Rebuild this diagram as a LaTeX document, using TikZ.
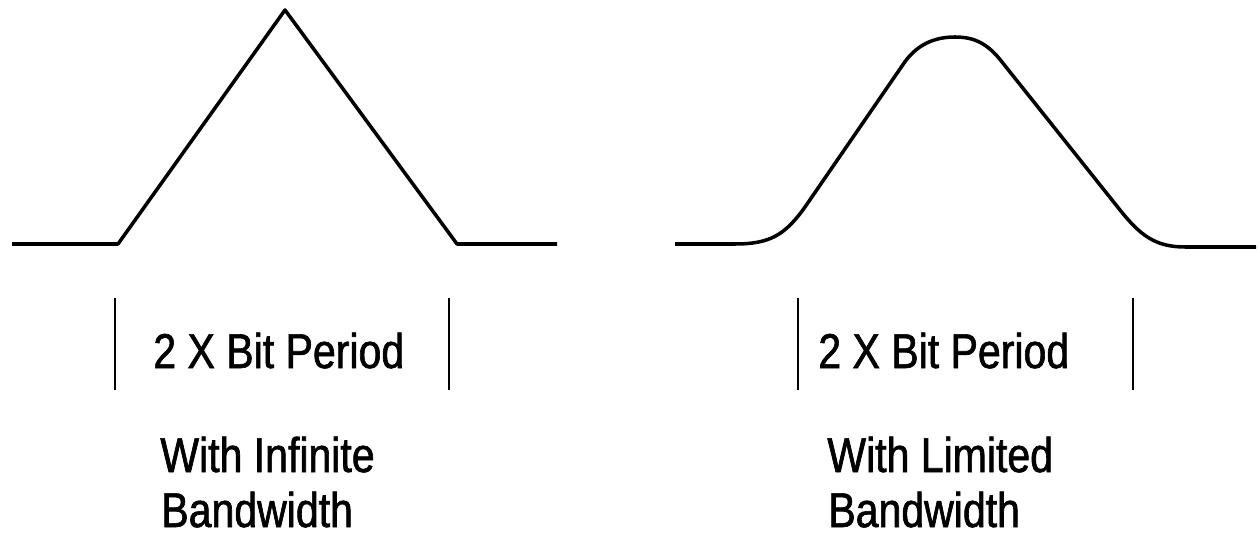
\documentclass[tikz,border=0pt]{standalone}
\usepackage{fontspec}
\newfontfamily\narrowsans{Liberation Sans}[FakeStretch=0.84, FakeBold=1.3]
\usepackage{tikz}
\usetikzlibrary{calc}

\begin{document}
\begin{tikzpicture}[x=0.02cm, y=-0.02cm,
		pulse/.style = {line width=2pt, line join=round},
		tick/.style = {line width=1.4pt},
		lbl/.style = {anchor=base west, inner sep=0pt, font=\narrowsans\fontsize{27.8}{33}\selectfont}]
					\def\yBASE{244};
					\def\tickTOP{298};
					\def\tickBOT{390};

					\useasboundingbox (0,0) rectangle (1260,540);

					% infinite bandwidth
					\begin{scope}
						\draw [pulse] (12,\yBASE) -- (118,\yBASE) -- (285,10) -- (457,\yBASE) -- (557,\yBASE);
						\draw [tick] (115,\tickTOP) -- (115,\tickBOT);
						\draw [tick] (449,\tickTOP) -- (449,\tickBOT);
						\node [lbl] (periodA) at (153,368) {2 X Bit Period};
						\node [lbl] (bwA1) at (160,472) {With Infinite};
						\node [lbl] (bwA2) at (161,527) {Bandwidth};
					\end{scope}

					% limited bandwidth
					\begin{scope}
						\draw [pulse] (675,\yBASE) -- (735,\yBASE)
							.. controls (770,\yBASE) and (785,235) .. (805,207) -- (902,66)
							.. controls (916,44) and (935,37) .. (955,37)
							.. controls (975,37) and (988,44) .. (1002,62) -- (1120,210)
							.. controls (1140,235) and (1155,247) .. (1185,247) -- (1256,247);
						\draw [tick] (798,\tickTOP) -- (798,\tickBOT);
						\draw [tick] (1133,\tickTOP) -- (1133,\tickBOT);
						\node [lbl] (periodB) at (818,368) {2 X Bit Period};
						\node [lbl] (bwB1) at (827,472) {With Limited};
						\node [lbl] (bwB2) at (828,527) {Bandwidth};
					\end{scope}
				\end{tikzpicture}
\end{document}
